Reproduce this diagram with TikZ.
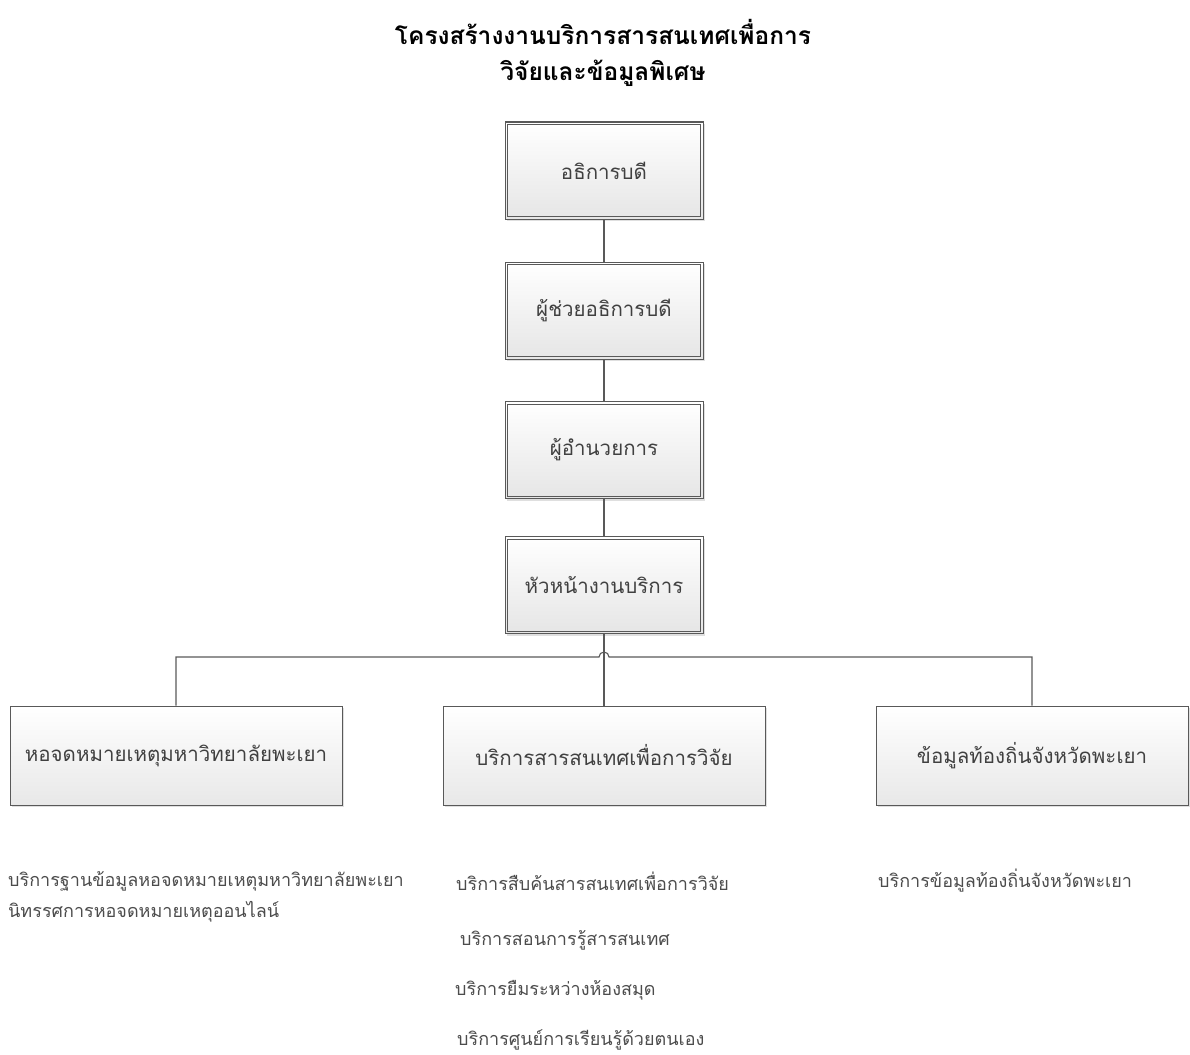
\documentclass[tikz,border=0pt]{standalone}
\usepackage{fontspec}
\newfontfamily\thaifont[Script=Thai]{Loma}
\usetikzlibrary{shadows}

\tikzset{
  link/.style={draw=gray!70!black, line width=1.1pt},
  topbox/.style={draw=gray!70!black, line width=1pt,
    top color=white, bottom color=gray!20, drop shadow={opacity=0.25},
    minimum width=198pt, minimum height=97pt,
    font=\thaifont\fontsize{20.5}{24}\selectfont, text=black!75},
  unitbox/.style={draw=gray!70!black, line width=1pt,
    top color=white, bottom color=gray!18, drop shadow={opacity=0.25},
    minimum height=99pt,
    font=\thaifont\fontsize{20.5}{24}\selectfont, text=black!75},
  item/.style={anchor=west, inner sep=0pt,
    font=\thaifont\fontsize{18}{21}\selectfont, text=black!70},
}

\begin{document}
\begin{tikzpicture}[%
      x=1pt, y=-1pt,
      ]
      \useasboundingbox (0,0) rectangle (1190,1054);

      \node[font=\thaifont\bfseries\fontsize{24.5}{36}\selectfont, align=center]
        (title) at (603,53) {โครงสร้างงานบริการสารสนเทศเพื่อการ\\วิจัยและข้อมูลพิเศษ};

      \node[topbox] (rector) at (604,170.5) {อธิการบดี};
      \node[topbox] (asst) at (604,310.5) {ผู้ช่วยอธิการบดี};
      \node[topbox] (director) at (604,450) {ผู้อำนวยการ};
      \node[topbox] (head) at (604,585) {หัวหน้างานบริการ};
      % inner line of the double frames
      \foreach \n in {rector,asst,director,head}
        \draw[link, line width=1pt] ([shift={(3,3)}]\n.north west) rectangle ([shift={(-3,-3)}]\n.south east);

      \node[unitbox, minimum width=332pt] (archive) at (176,755.5) {หอจดหมายเหตุมหาวิทยาลัยพะเยา};
      \node[unitbox, minimum width=322pt] (research) at (604,755.5) {บริการสารสนเทศเพื่อการวิจัย};
      \node[unitbox, minimum width=312pt] (local) at (1032,755.5) {ข้อมูลท้องถิ่นจังหวัดพะเยา};

      \draw[link] (rector) -- (asst);
      \draw[link] (asst) -- (director);
      \draw[link] (director) -- (head);
      \draw[link] (head) -- (research);

      \coordinate (hopL) at (599,657);
      \draw[link] (archive.north) |- (hopL) arc (180:360:5) -| (local.north);

      \node[item] (arch1) at (8,881) {บริการฐานข้อมูลหอจดหมายเหตุมหาวิทยาลัยพะเยา};
      \node[item] (arch2) at (8,912) {นิทรรศการหอจดหมายเหตุออนไลน์};

      \node[item] (res1) at (456,881) {บริการสืบค้นสารสนเทศเพื่อการวิจัย};
      \node[item] (res2) at (460,940) {บริการสอนการรู้สารสนเทศ};
      \node[item] (res3) at (455,990) {บริการยืมระหว่างห้องสมุด};
      \node[item] (res4) at (457,1040) {บริการศูนย์การเรียนรู้ด้วยตนเอง};

      \node[item] (loc1) at (878,881) {บริการข้อมูลท้องถิ่นจังหวัดพะเยา};
      \end{tikzpicture}
\end{document}
